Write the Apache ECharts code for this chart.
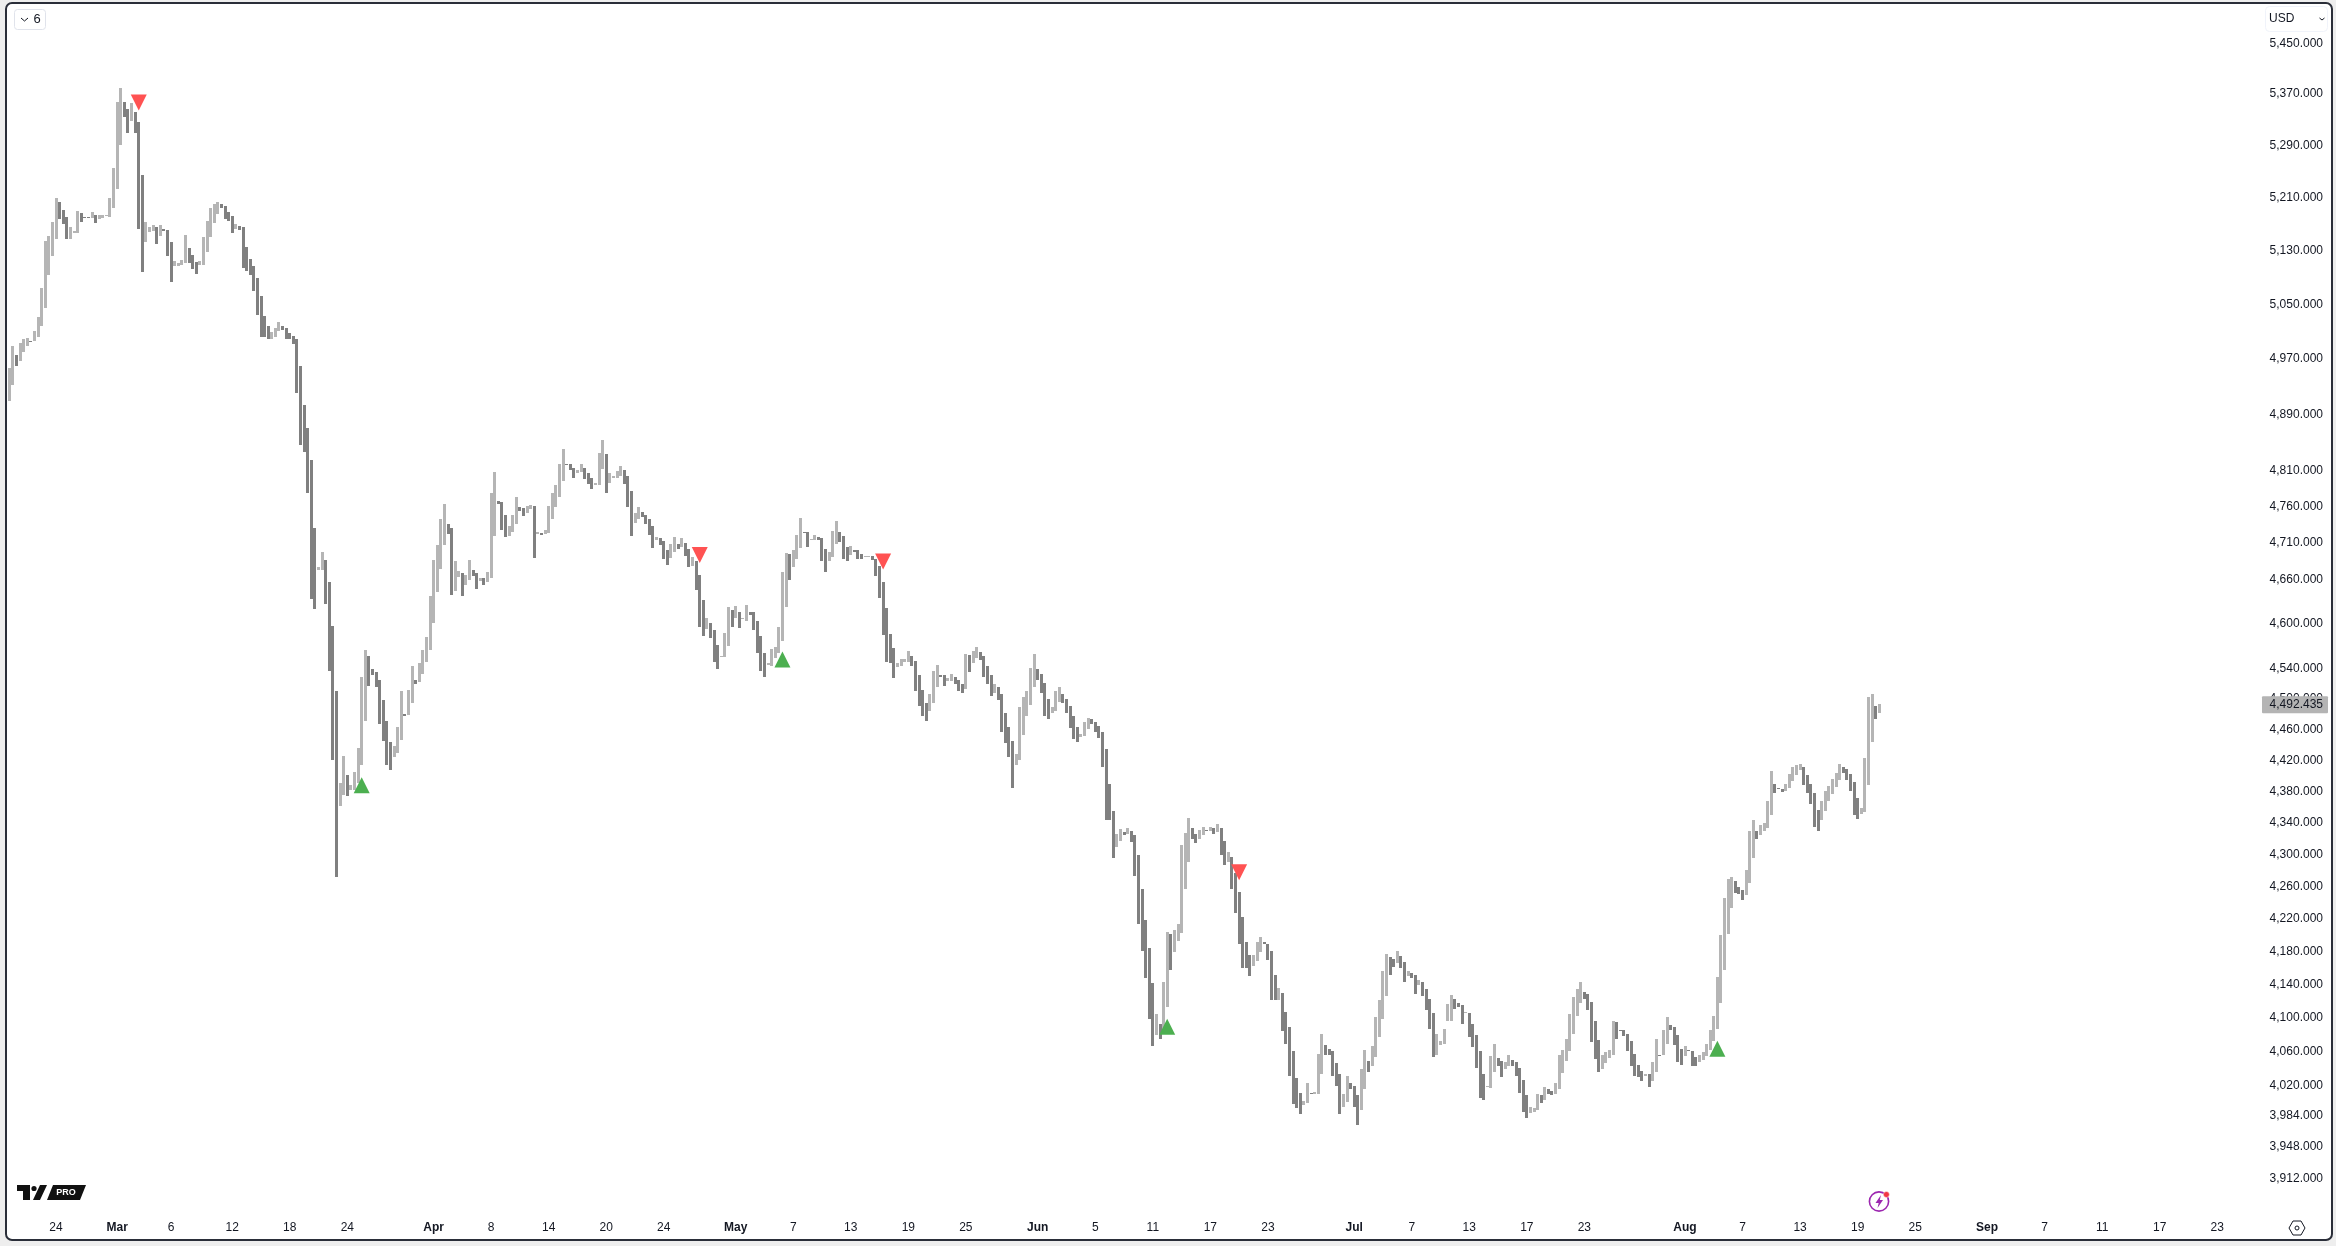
<!DOCTYPE html>
<html><head><meta charset="utf-8">
<style>html,body{margin:0;padding:0;background:#eeeeee}#c{width:2336px;height:1246px}</style>
<script src="https://cdn.jsdelivr.net/npm/echarts@6/dist/echarts.min.js"></script>
</head><body><div id="c"></div>
<script>
// each bar: [open, close]; close > open draws the light bar, close < open the dark one
const bars = [
[4908,4956],[4931,4988],[4975,4959],[4966,4992],[4979,4998],[4988,4999],[4995,4994],[4994,5010],[5001,5030],[5016,5073],
[5043,5143],[5092,5150],[5120,5172],[5146,5208],[5202,5176],[5190,5169],[5179,5146],[5146,5164],[5155,5158],[5155,5188],
[5185,5172],[5179,5178],[5179,5178],[5178,5187],[5182,5170],[5176,5182],[5178,5182],[5181,5182],[5179,5207],[5193,5254],
[5222,5356],[5289,5378],[5356,5332],[5345,5308],[5326,5354],[5340,5308],[5325,5161],[5243,5096],[5141,5172],[5157,5164],
[5158,5167],[5164,5138],[5150,5167],[5161,5158],[5159,5120],[5141,5082],[5105,5113],[5105,5110],[5107,5114],[5110,5152],
[5132,5110],[5122,5101],[5111,5093],[5107,5113],[5107,5149],[5126,5173],[5149,5193],[5170,5199],[5184,5202],[5199,5193],
[5196,5176],[5187,5173],[5181,5155],[5161,5169],[5165,5159],[5164,5102],[5134,5098],[5116,5092],[5105,5068],[5088,5033],
[5061,5001],[5032,5001],[5017,4997],[4997,5008],[5001,5014],[5010,5023],[5016,5011],[5014,4998],[5007,4998],[5002,4991],
[4998,4919],[4959,4845],[4902,4835],[4869,4778],[4824,4632],[4729,4618],[4672,4675],[4672,4696],[4685,4625],[4655,4536],
[4596,4419],[4509,4271],[4360,4390],[4374,4424],[4400,4373],[4381,4387],[4381,4404],[4390,4435],[4413,4528],[4470,4564],
[4556,4516],[4538,4530],[4535,4514],[4524,4466],[4497,4444],[4470,4413],[4443,4406],[4423,4437],[4429,4462],[4445,4510],
[4479,4477],[4478,4511],[4494,4542],[4524,4518],[4521,4546],[4532,4564],[4548,4581],[4564,4636],[4600,4685],[4642,4706],
[4673,4742],[4706,4763],[4735,4721],[4729,4638],[4643,4684],[4662,4670],[4668,4636],[4651,4665],[4658,4685],[4672,4664],
[4668,4646],[4657,4661],[4660,4651],[4655,4669],[4661,4778],[4718,4807],[4767,4763],[4765,4727],[4747,4717],[4718,4732],
[4724,4747],[4735,4772],[4758,4753],[4757,4746],[4750,4760],[4756,4761],[4760,4688],[4721,4724],[4722,4720],[4721,4727],
[4722,4760],[4741,4778],[4758,4789],[4772,4818],[4795,4839],[4818,4817],[4818,4810],[4813,4799],[4806,4810],[4807,4818],
[4813,4797],[4806,4790],[4799,4783],[4789,4792],[4789,4834],[4811,4852],[4832,4778],[4792,4806],[4799,4802],[4799,4809],
[4802,4816],[4810,4790],[4802,4758],[4781,4718],[4736,4750],[4742,4758],[4751,4745],[4747,4735],[4742,4720],[4732,4702],
[4713,4717],[4716,4706],[4711,4687],[4699,4679],[4688,4707],[4696,4717],[4707,4700],[4703,4715],[4709,4691],[4700,4676],
[4677,4690],[4684,4645],[4665,4595],[4631,4583],[4592,4607],[4600,4580],[4591,4548],[4571,4539],[4555,4556],[4555,4587],
[4569,4621],[4617,4595],[4606,4623],[4615,4593],[4605,4606],[4603,4624],[4615,4611],[4614,4591],[4603,4560],[4583,4536],
[4560,4528],[4544,4546],[4543,4565],[4553,4568],[4560,4595],[4576,4669],[4621,4695],[4694,4658],[4675,4699],[4687,4720],
[4702,4743],[4724,4722],[4724,4703],[4713,4714],[4713,4720],[4717,4713],[4716,4684],[4700,4669],[4684,4696],[4690,4725],
[4707,4739],[4724,4710],[4718,4687],[4703,4684],[4692,4704],[4699,4696],[4699,4687],[4694,4687],[4690,4691],[4690,4691],
[4691,4685],[4687,4664],[4677,4634],[4655,4584],[4620,4548],[4585,4547],[4567,4527],[4541,4547],[4543,4552],[4548,4552],
[4548,4563],[4556,4543],[4549,4510],[4531,4490],[4511,4477],[4494,4470],[4483,4505],[4493,4536],[4514,4544],[4530,4528],
[4530,4516],[4522,4526],[4523,4532],[4528,4519],[4524,4510],[4518,4507],[4512,4559],[4557,4535],[4546,4563],[4553,4568],
[4561,4551],[4556,4528],[4543,4518],[4531,4503],[4507,4518],[4514,4497],[4506,4456],[4481,4441],[4462,4423],[4444,4383],
[4413,4427],[4419,4488],[4452,4501],[4476,4509],[4491,4540],[4515,4559],[4538,4524],[4532,4507],[4520,4477],[4499,4472],
[4480,4488],[4483,4509],[4495,4514],[4505,4493],[4499,4481],[4490,4461],[4477,4447],[4462,4443],[4449,4453],[4451,4469],
[4460,4474],[4472,4466],[4469,4456],[4464,4448],[4456,4411],[4433,4343],[4388,4343],[4354,4295],[4308,4325],[4316,4331],
[4328,4323],[4325,4333],[4329,4315],[4323,4272],[4299,4213],[4256,4179],[4218,4147],[4183,4097],[4141,4065],[4078,4103],
[4091,4074],[4082,4142],[4112,4203],[4200,4157],[4178,4205],[4192,4213],[4202,4311],[4256,4326],[4290,4345],[4333,4318],
[4325,4314],[4319,4330],[4324,4334],[4330,4329],[4329,4334],[4332,4325],[4328,4338],[4333,4299],[4316,4286],[4290,4302],
[4296,4256],[4276,4226],[4252,4188],[4221,4159],[4191,4159],[4175,4149],[4161,4175],[4168,4190],[4178,4197],[4190,4188],
[4188,4169],[4179,4120],[4150,4120],[4120,4135],[4129,4083],[4106,4068],[4088,4030],[4059,3997],[4027,3992],[4010,3985],
[3996,4001],[3998,4021],[4010,4009],[4009,4011],[4009,4056],[4032,4080],[4067,4055],[4062,4054],[4059,4030],[4045,4018],
[4032,3985],[3993,4009],[3999,4030],[4022,4015],[4018,3994],[4007,3973],[3990,4038],[4014,4060],[4047,4035],[4041,4065],
[4052,4100],[4076,4120],[4097,4155],[4125,4176],[4172,4150],[4170,4160],[4165,4179],[4173,4159],[4166,4142],[4149,4155],
[4153,4147],[4150,4127],[4138,4144],[4142,4125],[4133,4108],[4121,4086],[4104,4052],[4055,4079],[4066,4071],[4068,4085],
[4095,4115],[4095,4126],[4121,4109],[4116,4112],[4114,4092],[4104,4106],[4104,4076],[4091,4064],[4078,4039],[4059,4004],
[4032,4002],[4017,4018],[4016,4053],[4034,4068],[4051,4042],[4047,4029],[4038,4046],[4041,4055],[4049,4042],[4046,4030],
[4039,4010],[4025,3988],[4008,3981],[3987,3994],[3988,3992],[3990,4009],[4007,3998],[4002,4017],[4015,4009],[4012,4007],
[4009,4022],[4015,4054],[4033,4061],[4047,4073],[4059,4103],[4080,4124],[4101,4133],[4116,4142],[4130,4122],[4127,4108],
[4118,4070],[4095,4050],[4072,4034],[4038,4054],[4045,4058],[4051,4060],[4055,4095],[4094,4074],[4084,4083],[4084,4077],
[4080,4059],[4071,4041],[4056,4030],[4043,4029],[4036,4024],[4030,4032],[4032,4017],[4024,4046],[4034,4074],[4055,4054],
[4054,4084],[4068,4100],[4090,4084],[4088,4067],[4078,4046],[4062,4043],[4053,4065],[4060,4059],[4059,4042],[4052,4042],
[4046,4054],[4049,4058],[4053,4068],[4060,4084],[4071,4101],[4085,4148],[4116,4199],[4157,4245],[4200,4269],[4233,4271],
[4266,4251],[4258,4250],[4255,4242],[4248,4280],[4264,4329],[4295,4342],[4329,4318],[4323,4336],[4329,4339],[4333,4367],
[4349,4405],[4388,4377],[4383,4382],[4382,4378],[4379,4388],[4383,4401],[4392,4410],[4400,4413],[4406,4414],[4410,4387],
[4400,4377],[4388,4363],[4377,4334],[4355,4329],[4342,4367],[4354,4379],[4367,4386],[4376,4395],[4385,4403],[4394,4414],
[4410,4403],[4408,4394],[4401,4379],[4391,4349],[4371,4344],[4350,4358],[4353,4422],[4387,4501],[4443,4505],[4489,4473],
[4481,4492]
];
const totalSlots = 626;
const lastPrice = 4492.435;
const priceTicks = [5450,5370,5290,5210,5130,5050,4970,4890,4810,4760,4710,4660,4600,4540,4500,4460,4420,4380,4340,4300,4260,4220,4180,4140,4100,4060,4020,3984,3948,3912];
const priceMin = 3871.7, priceMax = 5509.7;
const dateTickSlots = [13,30,45,62,78,94,118,134,150,166,182,202,218,234,250,266,286,302,318,334,350,374,390,406,422,438,466,482,498,514,530,550,566,582,598,614];
const dateTickLabels = ['24','Mar','6','12','18','24','Apr','8','14','20','24','May','7','13','19','25','Jun','5','11','17','23','Jul','7','13','17','23','Aug','7','13','19','25','Sep','7','11','17','23'];
const monthNames = ['Mar','Apr','May','Jun','Jul','Aug','Sep'];
const sellSignals = [[36,5355],[192,4692],[243,4683],[342,4277]];
const buySignals = [[98,4387],[215,4551],[322,4088],[475,4062]];

const labelsBySlot = {};
dateTickSlots.forEach((s,i)=>{labelsBySlot[s]=dateTickLabels[i];});
const categories = Array.from({length:totalSlots},(_,i)=>labelsBySlot[i]||'');
const barData = bars.map(([o,c],i)=>[i,o,c]);
const FONT = '"Liberation Sans", Arial, sans-serif';
const TXT = '#131722';
const UP = '#b5b5b5', DOWN = '#808080';

const chart = echarts.init(document.getElementById('c'),null,{renderer:'canvas',width:2336,height:1246});
chart.setOption({
  animation:false,
  backgroundColor:'transparent',
  grid:{left:7.5,right:77.4,top:5,bottom:33},
  xAxis:{type:'category',data:categories,boundaryGap:true,
    axisLine:{show:false},axisTick:{show:false},splitLine:{show:false},
    axisLabel:{interval:0,margin:9,hideOverlap:false,fontFamily:FONT,fontSize:12,color:TXT,
      formatter:v=>v===''?'':(monthNames.includes(v)?'{m|'+v+'}':v),
      rich:{m:{fontFamily:FONT,fontSize:12,fontWeight:'bold',color:TXT}}}},
  yAxis:{type:'log',logBase:Math.E,position:'right',min:priceMin,max:priceMax,scale:true,
    axisLine:{show:false},axisTick:{show:false},splitLine:{show:false},
    axisLabel:{customValues:priceTicks,margin:11,fontFamily:FONT,fontSize:12,color:TXT,showMinLabel:true,showMaxLabel:true,
      formatter:v=>'{t|'+Number(v).toLocaleString('en-US',{minimumFractionDigits:3,maximumFractionDigits:3})+'}',
      rich:{t:{fontFamily:FONT,fontSize:12,color:TXT,padding:[2,0,0,0]}}}},
  series:[
    {type:'custom',data:barData,encode:{x:0,y:[1,2]},clip:false,
      renderItem:(params,api)=>{
        const o=api.value(1),c=api.value(2);
        const pTop=api.coord([api.value(0),Math.max(o,c)]);
        const pBot=api.coord([api.value(0),Math.min(o,c)]);
        const top=Math.round(pTop[1]),bot=Math.round(pBot[1]);
        return {type:'rect',shape:{x:Math.round(pTop[0]-1.5),y:top,width:3,height:Math.max(1,bot-top)},
          style:{fill:c>=o?UP:DOWN}};
      }},
    {type:'scatter',data:sellSignals,symbol:'triangle',symbolRotate:180,symbolSize:[16,16],itemStyle:{color:'#ff5252',opacity:1},z:5},
    {type:'scatter',data:buySignals,symbol:'triangle',symbolSize:[16,16],itemStyle:{color:'#4caf50',opacity:1},z:5}
  ]
});
const lastY = chart.convertToPixel({yAxisIndex:0},lastPrice);
chart.setOption({graphic:[
  {type:'rect',z:-10,silent:true,shape:{x:6,y:3,width:2326,height:1237,r:6},style:{fill:'#ffffff',stroke:'#2a2e39',lineWidth:2}},
  // last price tag
  {type:'rect',z:50,shape:{x:2262,y:lastY-7.5,width:66,height:17,r:1},style:{fill:'#b4b4b4'}},
  {type:'text',z:51,x:2323,y:lastY+1,style:{text:'4,492.435',font:'12px '+FONT,fill:TXT,textAlign:'right',textVerticalAlign:'middle'}},
  // interval button
  {type:'rect',z:50,shape:{x:14.5,y:9.5,width:31,height:20,r:3},style:{fill:'#fff',stroke:'#e0e3eb',lineWidth:1}},
  {type:'polyline',z:51,shape:{points:[[21,18],[24.5,21],[28,18]]},style:{stroke:TXT,fill:'none',lineWidth:1}},
  {type:'text',z:51,x:37,y:19.5,style:{text:'6',font:'13px '+FONT,fill:TXT,textAlign:'center',textVerticalAlign:'middle'}},
  // currency button
  {type:'rect',z:50,shape:{x:2265.5,y:6.5,width:62,height:25,r:4},style:{fill:'#fff',stroke:'#f0f3fa',lineWidth:1}},
  {type:'text',z:51,x:2269,y:18.5,style:{text:'USD',font:'12px '+FONT,fill:TXT,textAlign:'left',textVerticalAlign:'middle'}},
  {type:'polyline',z:51,shape:{points:[[2319.5,18],[2322,20],[2324.5,18]]},style:{stroke:TXT,fill:'none',lineWidth:1}},
  // logo
  {type:'polygon',z:51,shape:{points:[[17,1185],[30,1185],[30,1200],[23,1200],[23,1191],[17,1191]]},style:{fill:'#111'}},
  {type:'circle',z:51,shape:{cx:34,cy:1188.5,r:2.6},style:{fill:'#111'}},
  {type:'polygon',z:51,shape:{points:[[40,1185],[47,1185],[40,1200],[33,1200]]},style:{fill:'#111'}},
  {type:'polygon',z:51,shape:{points:[[53,1185],[86,1185],[80,1200],[47,1200]]},style:{fill:'#111'}},
  {type:'text',z:52,x:66,y:1192.7,style:{text:'PRO',font:'bold 9px '+FONT,fill:'#fff',textAlign:'center',textVerticalAlign:'middle'}},
  // bolt icon
  {type:'circle',z:51,shape:{cx:1879,cy:1201.5,r:9.6},style:{fill:'none',stroke:'#9c27b0',lineWidth:1.6}},
  {type:'polygon',z:52,shape:{points:[[1881,1195],[1875.5,1203],[1878.7,1203],[1877.5,1208],[1883,1200],[1879.8,1200]]},style:{fill:'#9c27b0'}},
  {type:'circle',z:52,shape:{cx:1886.4,cy:1194.5,r:3},style:{fill:'#f23645',stroke:'#fff',lineWidth:0.5}},
  // settings icon
  {type:'polygon',z:51,shape:{points:[[2289,1228],[2293,1221],[2301,1221],[2305,1228],[2301,1235],[2293,1235]]},style:{fill:'none',stroke:TXT,lineWidth:1}},
  {type:'circle',z:51,shape:{cx:2297,cy:1228,r:2},style:{fill:'none',stroke:TXT,lineWidth:1}}
]});
</script></body></html>
